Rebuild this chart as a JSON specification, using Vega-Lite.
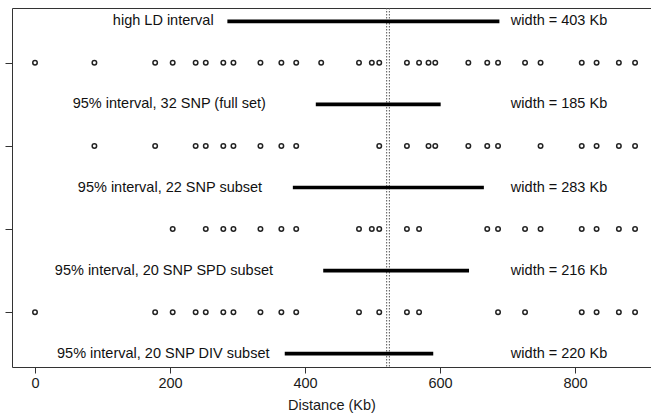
{
  "$schema": "https://vega.github.io/schema/vega-lite/v6.json",
  "autosize": {"type": "none"},
  "padding": {"left": 12, "top": 8, "right": 0, "bottom": 47},
  "width": 639,
  "height": 359,
  "background": "white",
  "config": {
    "view": {"stroke": null},
    "font": "Liberation Sans",
    "axis": {"grid": false, "domainColor": "#333", "tickColor": "#333", "labelColor": "#1a1a1a", "titleColor": "#1a1a1a", "labelFont": "Liberation Sans", "titleFont": "Liberation Sans", "titleFontWeight": "normal"}
  },
  "datasets": {
    "snps": [
      {"set": "32 SNP (full set)", "row": 4, "pos": 0},
      {"set": "32 SNP (full set)", "row": 4, "pos": 88},
      {"set": "32 SNP (full set)", "row": 4, "pos": 178},
      {"set": "32 SNP (full set)", "row": 4, "pos": 204},
      {"set": "32 SNP (full set)", "row": 4, "pos": 238},
      {"set": "32 SNP (full set)", "row": 4, "pos": 253},
      {"set": "32 SNP (full set)", "row": 4, "pos": 279},
      {"set": "32 SNP (full set)", "row": 4, "pos": 294},
      {"set": "32 SNP (full set)", "row": 4, "pos": 334},
      {"set": "32 SNP (full set)", "row": 4, "pos": 365},
      {"set": "32 SNP (full set)", "row": 4, "pos": 387},
      {"set": "32 SNP (full set)", "row": 4, "pos": 424},
      {"set": "32 SNP (full set)", "row": 4, "pos": 480},
      {"set": "32 SNP (full set)", "row": 4, "pos": 499},
      {"set": "32 SNP (full set)", "row": 4, "pos": 510},
      {"set": "32 SNP (full set)", "row": 4, "pos": 551},
      {"set": "32 SNP (full set)", "row": 4, "pos": 569},
      {"set": "32 SNP (full set)", "row": 4, "pos": 583},
      {"set": "32 SNP (full set)", "row": 4, "pos": 593},
      {"set": "32 SNP (full set)", "row": 4, "pos": 642},
      {"set": "32 SNP (full set)", "row": 4, "pos": 670},
      {"set": "32 SNP (full set)", "row": 4, "pos": 686},
      {"set": "32 SNP (full set)", "row": 4, "pos": 726},
      {"set": "32 SNP (full set)", "row": 4, "pos": 749},
      {"set": "32 SNP (full set)", "row": 4, "pos": 810},
      {"set": "32 SNP (full set)", "row": 4, "pos": 832},
      {"set": "32 SNP (full set)", "row": 4, "pos": 865},
      {"set": "32 SNP (full set)", "row": 4, "pos": 889},
      {"set": "22 SNP subset", "row": 3, "pos": 88},
      {"set": "22 SNP subset", "row": 3, "pos": 178},
      {"set": "22 SNP subset", "row": 3, "pos": 238},
      {"set": "22 SNP subset", "row": 3, "pos": 253},
      {"set": "22 SNP subset", "row": 3, "pos": 279},
      {"set": "22 SNP subset", "row": 3, "pos": 294},
      {"set": "22 SNP subset", "row": 3, "pos": 334},
      {"set": "22 SNP subset", "row": 3, "pos": 365},
      {"set": "22 SNP subset", "row": 3, "pos": 387},
      {"set": "22 SNP subset", "row": 3, "pos": 510},
      {"set": "22 SNP subset", "row": 3, "pos": 551},
      {"set": "22 SNP subset", "row": 3, "pos": 583},
      {"set": "22 SNP subset", "row": 3, "pos": 593},
      {"set": "22 SNP subset", "row": 3, "pos": 642},
      {"set": "22 SNP subset", "row": 3, "pos": 670},
      {"set": "22 SNP subset", "row": 3, "pos": 686},
      {"set": "22 SNP subset", "row": 3, "pos": 749},
      {"set": "22 SNP subset", "row": 3, "pos": 810},
      {"set": "22 SNP subset", "row": 3, "pos": 832},
      {"set": "22 SNP subset", "row": 3, "pos": 865},
      {"set": "22 SNP subset", "row": 3, "pos": 889},
      {"set": "20 SNP SPD subset", "row": 2, "pos": 204},
      {"set": "20 SNP SPD subset", "row": 2, "pos": 253},
      {"set": "20 SNP SPD subset", "row": 2, "pos": 279},
      {"set": "20 SNP SPD subset", "row": 2, "pos": 294},
      {"set": "20 SNP SPD subset", "row": 2, "pos": 334},
      {"set": "20 SNP SPD subset", "row": 2, "pos": 365},
      {"set": "20 SNP SPD subset", "row": 2, "pos": 387},
      {"set": "20 SNP SPD subset", "row": 2, "pos": 480},
      {"set": "20 SNP SPD subset", "row": 2, "pos": 499},
      {"set": "20 SNP SPD subset", "row": 2, "pos": 510},
      {"set": "20 SNP SPD subset", "row": 2, "pos": 551},
      {"set": "20 SNP SPD subset", "row": 2, "pos": 569},
      {"set": "20 SNP SPD subset", "row": 2, "pos": 670},
      {"set": "20 SNP SPD subset", "row": 2, "pos": 686},
      {"set": "20 SNP SPD subset", "row": 2, "pos": 726},
      {"set": "20 SNP SPD subset", "row": 2, "pos": 749},
      {"set": "20 SNP SPD subset", "row": 2, "pos": 810},
      {"set": "20 SNP SPD subset", "row": 2, "pos": 832},
      {"set": "20 SNP SPD subset", "row": 2, "pos": 865},
      {"set": "20 SNP SPD subset", "row": 2, "pos": 889},
      {"set": "20 SNP DIV subset", "row": 1, "pos": 0},
      {"set": "20 SNP DIV subset", "row": 1, "pos": 178},
      {"set": "20 SNP DIV subset", "row": 1, "pos": 204},
      {"set": "20 SNP DIV subset", "row": 1, "pos": 238},
      {"set": "20 SNP DIV subset", "row": 1, "pos": 253},
      {"set": "20 SNP DIV subset", "row": 1, "pos": 279},
      {"set": "20 SNP DIV subset", "row": 1, "pos": 294},
      {"set": "20 SNP DIV subset", "row": 1, "pos": 334},
      {"set": "20 SNP DIV subset", "row": 1, "pos": 365},
      {"set": "20 SNP DIV subset", "row": 1, "pos": 387},
      {"set": "20 SNP DIV subset", "row": 1, "pos": 480},
      {"set": "20 SNP DIV subset", "row": 1, "pos": 510},
      {"set": "20 SNP DIV subset", "row": 1, "pos": 551},
      {"set": "20 SNP DIV subset", "row": 1, "pos": 569},
      {"set": "20 SNP DIV subset", "row": 1, "pos": 686},
      {"set": "20 SNP DIV subset", "row": 1, "pos": 726},
      {"set": "20 SNP DIV subset", "row": 1, "pos": 810},
      {"set": "20 SNP DIV subset", "row": 1, "pos": 832},
      {"set": "20 SNP DIV subset", "row": 1, "pos": 865},
      {"set": "20 SNP DIV subset", "row": 1, "pos": 889}
    ],
    "intervals": [
      {"label": "high LD interval", "row": 4.5, "start": 285, "end": 688, "labelPos": 190, "widthText": "width = 403 Kb", "widthPos": 705},
      {"label": "95% interval, 32 SNP (full set)", "row": 3.5, "start": 416, "end": 601, "labelPos": 199, "widthText": "width = 185 Kb", "widthPos": 705},
      {"label": "95% interval, 22 SNP subset", "row": 2.5, "start": 382, "end": 665, "labelPos": 200, "widthText": "width = 283 Kb", "widthPos": 705},
      {"label": "95% interval, 20 SNP SPD subset", "row": 1.5, "start": 427, "end": 643, "labelPos": 191, "widthText": "width = 216 Kb", "widthPos": 705},
      {"label": "95% interval, 20 SNP DIV subset", "row": 0.5, "start": 370, "end": 590, "labelPos": 190, "widthText": "width = 220 Kb", "widthPos": 705}
    ],
    "marker": [
      {"pos": 521},
      {"pos": 525}
    ]
  },
  "resolve": {"axis": {"x": "independent", "y": "independent"}},
  "layer": [
    {
      "data": {"name": "marker"},
      "mark": {"type": "rule", "color": "#555", "strokeWidth": 1, "strokeDash": [1.5, 1.5]},
      "encoding": {
        "x": {"field": "pos", "type": "quantitative", "scale": {"domain": [-34.07, 912.6], "nice": false, "zero": false},
              "axis": {"orient": "top", "labels": false, "ticks": false, "domain": true, "title": null, "grid": false}}
      }
    },
    {
      "data": {"name": "intervals"},
      "mark": {"type": "rule", "color": "#000", "strokeWidth": 3.7, "strokeCap": "butt"},
      "encoding": {
        "x": {"field": "start", "type": "quantitative", "axis": null},
        "x2": {"field": "end"},
        "y": {"field": "row", "type": "quantitative", "axis": null}
      }
    },
    {
      "data": {"name": "intervals"},
      "mark": {"type": "text", "align": "center", "baseline": "middle", "fontSize": 14.5, "color": "#111", "font": "Liberation Sans"},
      "encoding": {
        "x": {"field": "labelPos", "type": "quantitative", "axis": null},
        "y": {"field": "row", "type": "quantitative", "axis": null},
        "text": {"field": "label"}
      }
    },
    {
      "data": {"name": "intervals"},
      "mark": {"type": "text", "align": "left", "baseline": "middle", "fontSize": 14.5, "color": "#111", "font": "Liberation Sans"},
      "encoding": {
        "x": {"field": "widthPos", "type": "quantitative", "axis": null},
        "y": {"field": "row", "type": "quantitative", "axis": null},
        "text": {"field": "widthText"}
      }
    },
    {
      "data": {"name": "snps"},
      "mark": {"type": "point", "shape": "circle", "filled": false, "size": 20, "strokeWidth": 1.5, "color": "#222", "opacity": 1},
      "encoding": {
        "x": {"field": "pos", "type": "quantitative",
              "axis": {"orient": "bottom", "values": [0, 200, 400, 600, 800], "tickSize": 6, "labelFontSize": 14.5, "labelPadding": 3, "title": "Distance (Kb)", "titleFontSize": 14.5, "titlePadding": 9, "grid": false}},
        "y": {"field": "row", "type": "quantitative", "scale": {"domain": [0.34, 4.66], "nice": false, "zero": false},
              "axis": {"orient": "left", "values": [1, 2, 3, 4], "labels": false, "tickSize": 7, "title": null, "grid": false}}
      }
    }
  ]
}
